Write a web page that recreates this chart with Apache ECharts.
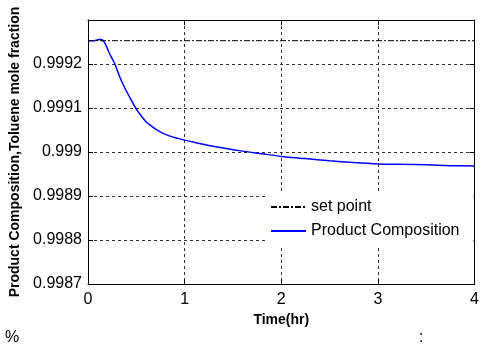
<!DOCTYPE html>
<html>
<head>
<meta charset="utf-8">
<script src="https://cdn.jsdelivr.net/npm/echarts@6/dist/echarts.min.js"></script>
<style>html,body{margin:0;padding:0;background:#fff;}#c{width:482px;height:351px;}</style>
</head>
<body>
<div id="c"></div>
<script>
const times = [0, 0.05, 0.1, 0.13, 0.17, 0.22, 0.28, 0.33, 0.38, 0.43, 0.48, 0.53, 0.6, 0.65, 0.7, 0.77, 0.85, 0.93, 1.0, 1.1, 1.25, 1.4, 1.6, 1.8, 2.0, 2.25, 2.5, 2.75, 3.0, 3.25, 3.5, 3.75, 4.0];
const productComposition = [0.999253, 0.999253, 0.999255, 0.999256, 0.999249, 0.999225, 0.999199, 0.999170, 0.999146, 0.999125, 0.999105, 0.999088, 0.999069, 0.999060, 0.999052, 0.999043, 0.999036, 0.999031, 0.999027, 0.999022, 0.999015, 0.999009, 0.999002, 0.998996, 0.998990, 0.998985, 0.998980, 0.998976, 0.998973, 0.998972, 0.998971, 0.998969, 0.998968];
const setPointTimes = [0, 4];
const setPointValues = [0.999253, 0.999253];
const seriesNames = ['set point', 'Product Composition'];
const xTitle = 'Time(hr)';
const yTitle = 'Product Composition,Toluene mole fraction';

const chart = echarts.init(document.getElementById('c'));
const font = 'Liberation Sans, Arial, sans-serif';
const tickStyle = {show: true, inside: true, length: 5, lineStyle: {color: '#000', width: 1}};
const axisLine = {show: true, onZero: false, lineStyle: {color: '#000', width: 1}};
const gridLine = {show: true, lineStyle: {color: '#333', width: 1, type: [3, 3]}};

chart.setOption({
  animation: false,
  backgroundColor: '#fff',
  grid: {left: 88, right: 4, top: 20, bottom: 67},
  legend: {
    orient: 'vertical',
    left: 265, top: 193,
    padding: [5, 14, 5, 5],
    backgroundColor: '#fff',
    itemWidth: 35, itemHeight: 14, itemGap: 6,
    itemStyle: {opacity: 0},
    textStyle: {fontFamily: font, fontSize: 16, color: '#000', lineHeight: 18},
    data: seriesNames
  },
  xAxis: [
    {type: 'value', min: 0, max: 4, interval: 1, position: 'bottom',
     axisLine: axisLine, axisTick: tickStyle, splitLine: gridLine,
     axisLabel: {fontFamily: font, fontSize: 16, color: '#000', margin: 8},
     name: xTitle, nameLocation: 'middle', nameGap: 23,
     nameTextStyle: {fontFamily: font, fontSize: 14, fontWeight: 'bold', color: '#000'}},
    {type: 'value', min: 0, max: 4, interval: 1, position: 'top',
     axisLine: axisLine, axisTick: tickStyle, splitLine: {show: false}, axisLabel: {show: false}}
  ],
  yAxis: [
    {type: 'value', min: 0.9987, max: 0.9993, interval: 0.0001, position: 'left',
     axisLine: axisLine, axisTick: tickStyle, splitLine: gridLine,
     axisLabel: {fontFamily: font, fontSize: 16, color: '#000', margin: 6, showMaxLabel: false},
     name: yTitle, nameLocation: 'middle', nameGap: 63,
     nameTextStyle: {fontFamily: font, fontSize: 14, fontWeight: 'bold', color: '#000'}},
    {type: 'value', min: 0.9987, max: 0.9993, interval: 0.0001, position: 'right',
     axisLine: axisLine, axisTick: tickStyle, splitLine: {show: false}, axisLabel: {show: false}}
  ],
  series: [
    {name: seriesNames[0], type: 'line', symbol: 'none', z: 3,
     data: setPointTimes.map((t, i) => [t, setPointValues[i]]),
     lineStyle: {color: '#000', width: 1, type: [6, 2, 2, 2]}, itemStyle: {color: '#000'}},
    {name: seriesNames[1], type: 'line', symbol: 'none', smooth: 0.3, z: 2,
     data: times.map((t, i) => [t, productComposition[i]]),
     lineStyle: {color: '#0000ff', width: 1.5}, itemStyle: {color: '#0000ff'}}
  ],
  graphic: [
    {type: 'text', left: 5, top: 330, style: {text: '%', fontFamily: font, fontSize: 16, fill: '#000'}},
    {type: 'text', left: 419, top: 330, style: {text: ':', fontFamily: font, fontSize: 16, fill: '#000'}}
  ]
});
</script>
</body>
</html>
